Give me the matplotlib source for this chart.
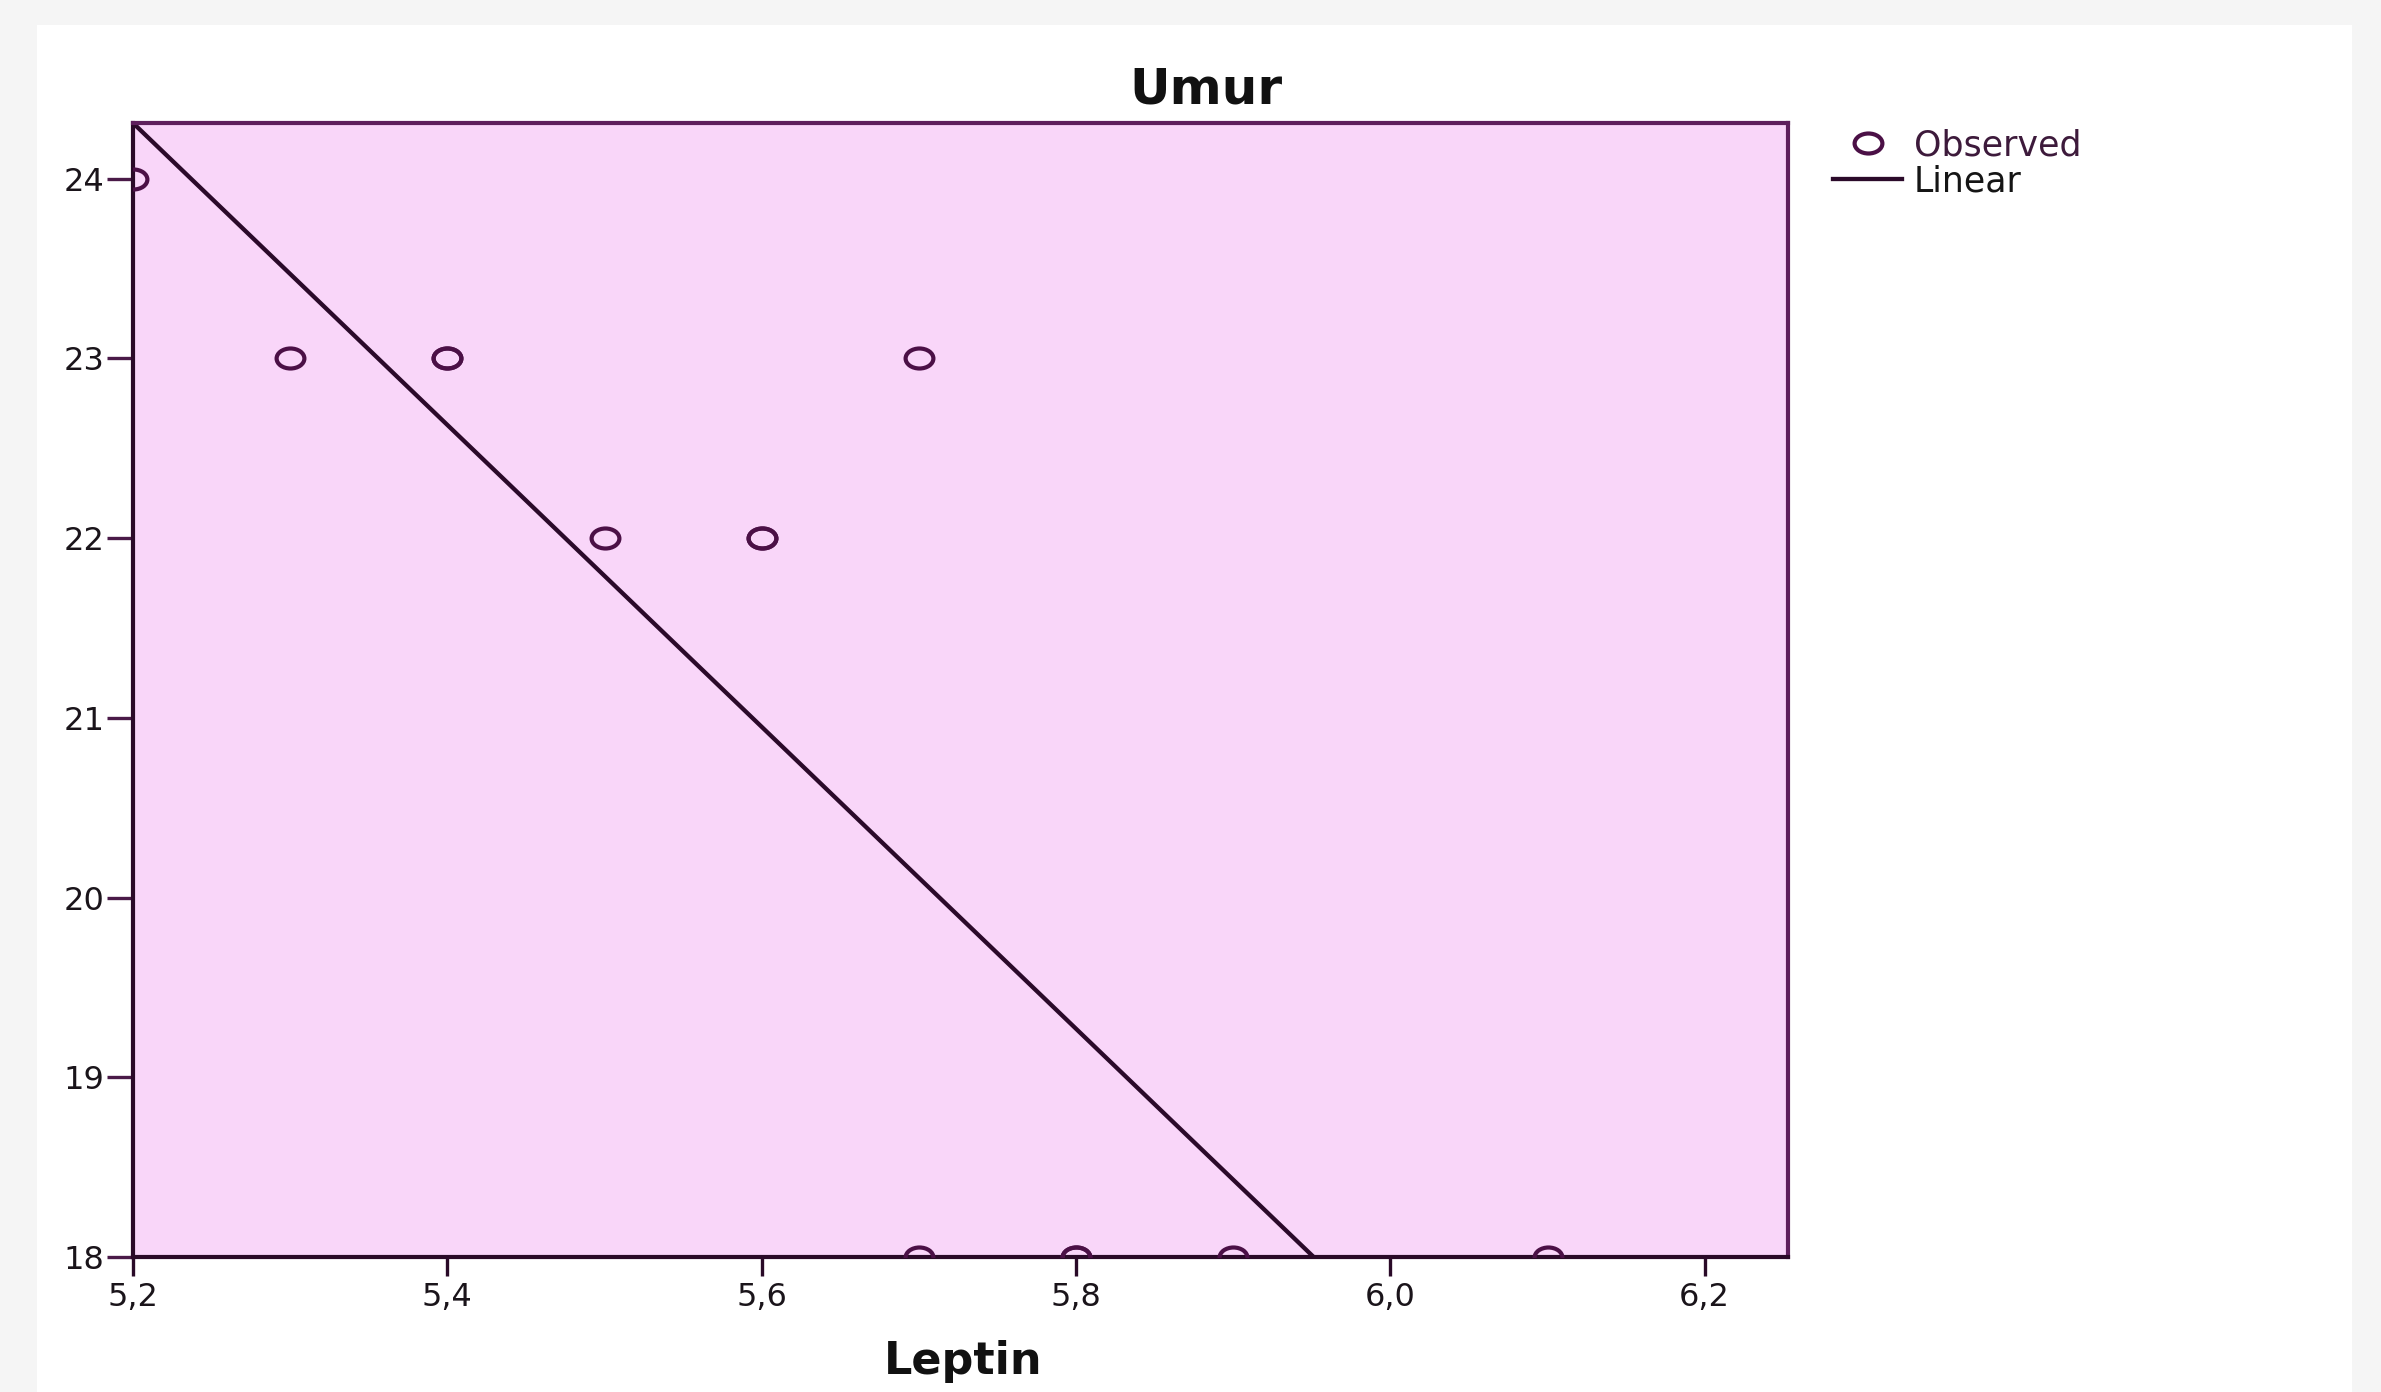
import matplotlib
matplotlib.use("Agg")
import matplotlib.pyplot as plt
from matplotlib.path import Path
from matplotlib.patches import Rectangle
from matplotlib.ticker import FixedLocator, FixedFormatter
import numpy as np

# ---- data ----
leptin = [5.2, 5.3, 5.4, 5.4, 5.5, 5.6, 5.6, 5.7, 5.7, 5.8, 5.8, 5.9, 6.1]
umur   = [24, 23, 23, 23, 22, 22, 22, 23, 18, 18, 18, 18, 18]
fit_intercept = 67.99
fit_slope = -8.40
xticks = [5.2, 5.4, 5.6, 5.8, 6.0, 6.2]
xtick_labels = ["5,2", "5,4", "5,6", "5,8", "6,0", "6,2"]
yticks = [18, 19, 20, 21, 22, 23, 24]
ytick_labels = ["18", "19", "20", "21", "22", "23", "24"]
title = "Umur"
xlabel = "Leptin"
legend_labels = ["Observed", "Linear"]

W, H = 2381, 1392
fig = plt.figure(figsize=(W / 100, H / 100), dpi=100)
fig.patch.set_facecolor("#F5F5F5")
fig.patches.append(Rectangle((37 / W, 0), (2352 - 37) / W, (H - 25) / H,
                             transform=fig.transFigure, facecolor="white",
                             edgecolor="none", zorder=-10))

ax = fig.add_axes([133 / W, (H - 1257) / H, (1788 - 133) / W, (1257 - 123) / H])
ax.set_facecolor("#F9D6F9")

circ = Path.unit_circle()
ell = Path(circ.vertices * np.array([1.0, 0.72]), circ.codes)

mk_col = "#4B1046"
line_col = "#2B0A2A"
pts, = ax.plot(leptin, umur, linestyle="none", marker=ell, markersize=20,
               markerfacecolor="none", markeredgecolor=mk_col, markeredgewidth=3.0,
               zorder=3)
xs = np.array([min(leptin), max(leptin)])
fit, = ax.plot(xs, fit_intercept + fit_slope * xs, color=line_col, lw=3.1, zorder=2)

ax.set_xlim(5.2, 6.253)
ax.set_ylim(18, 24.31)
ax.xaxis.set_major_locator(FixedLocator(xticks))
ax.xaxis.set_major_formatter(FixedFormatter(xtick_labels))
ax.yaxis.set_major_locator(FixedLocator(yticks))
ax.yaxis.set_major_formatter(FixedFormatter(ytick_labels))

ax.tick_params(axis="x", direction="out", length=14, width=2.4, color="#2A0A28",
               labelsize=23, labelcolor="#1A141A", pad=4)
ax.tick_params(axis="y", direction="out", length=18.5, width=2.4, color="#4A1A48",
               labelsize=23, labelcolor="#1A141A", pad=2)
for s in ["left", "bottom"]:
    ax.spines[s].set_color("#2A0A28")
    ax.spines[s].set_linewidth(3.0)
for s in ["top", "right"]:
    ax.spines[s].set_color("#5E1F5C")
    ax.spines[s].set_linewidth(3.0)

fig.text(1206 / W, (H - 103) / H, title, ha="center", va="baseline",
         fontsize=36, fontweight="bold", color="#111111")
fig.text(963 / W, (H - 1374) / H, xlabel, ha="center", va="baseline",
         fontsize=32, fontweight="bold", color="#111111")

leg = ax.legend([pts, fit], legend_labels, loc="upper left",
                bbox_to_anchor=(1833 / W, (H - 128) / H), bbox_transform=fig.transFigure,
                frameon=False, fontsize=25, handlelength=2.0, handletextpad=0.33,
                labelspacing=0.06, borderpad=0, borderaxespad=0)
txts = leg.get_texts()
txts[0].set_color("#3D1A3B")
txts[1].set_color("#151515")

fig.savefig("out.png", dpi=100, facecolor=fig.get_facecolor())
